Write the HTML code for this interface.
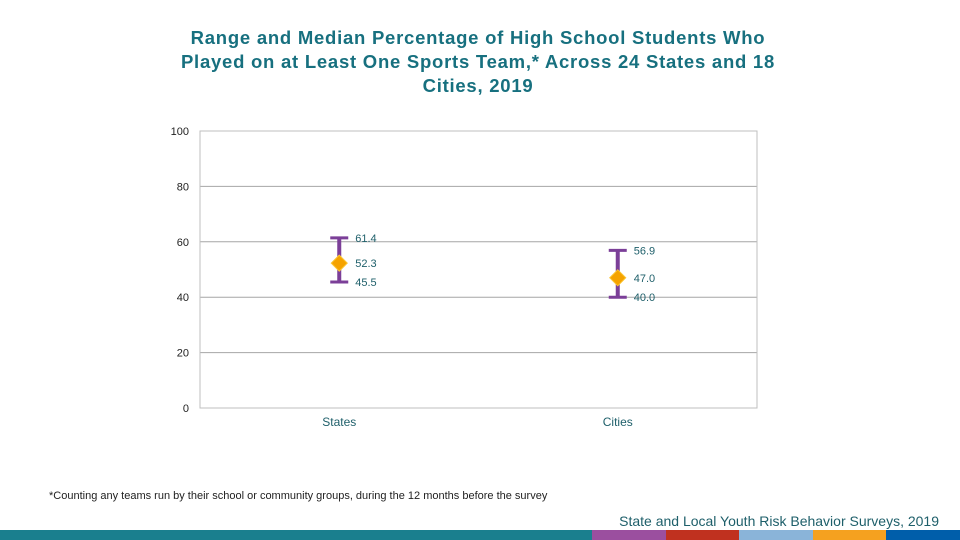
<!DOCTYPE html>
<html><head><meta charset="utf-8"><style>
body{margin:0;width:960px;height:540px;background:#fff;overflow:hidden;position:relative;font-family:"Liberation Sans",sans-serif}
#title{position:absolute;left:0;width:956px;top:26px;text-align:center;font-size:18.5px;line-height:24px;color:#17707f;font-weight:bold;letter-spacing:0.75px}
#foot{position:absolute;left:49px;top:490px;font-size:11px;color:#222}
#src{position:absolute;right:21px;top:513px;font-size:14px;color:#1e5f6a}
.stripe{position:absolute;top:530px;height:10px}
</style></head><body>
<div id="title">Range and Median Percentage of High School Students Who<br>Played on at Least One Sports Team,* Across 24 States and 18<br>Cities, 2019</div>
<svg id="chart" width="960" height="540" style="position:absolute;left:0;top:0"></svg>
<div id="foot">*Counting any teams run by their school or community groups, during the 12 months before the survey</div>
<div id="src">State and Local Youth Risk Behavior Surveys, 2019</div>
<div class="stripe" style="left:0;width:592px;background:#1a7f8e"></div>
<div class="stripe" style="left:592px;width:74px;background:#9b4f9f"></div>
<div class="stripe" style="left:666px;width:73px;background:#c0311f"></div>
<div class="stripe" style="left:739px;width:74px;background:#8ab4d9"></div>
<div class="stripe" style="left:813px;width:73px;background:#f5a11f"></div>
<div class="stripe" style="left:886px;width:74px;background:#005eaa"></div>
<script>
const categories=["States","Cities"];
const highs=[61.4,56.9];
const medians=[52.3,47.0];
const lows=[45.5,40.0];
const yTicks=[0,20,40,60,80,100];
const NS="http://www.w3.org/2000/svg";
const svg=document.getElementById('chart');
const L=200,R=757,T=131,B=408;
const y=v=>B-(v/100)*(B-T);
const x=i=>L+(R-L)*(i+0.5)/categories.length;
function mk(tag,attrs,text){const e=document.createElementNS(NS,tag);for(const k in attrs)e.setAttribute(k,attrs[k]);if(text!==undefined)e.textContent=text;svg.appendChild(e);return e;}
yTicks.forEach(t=>{
 if(t>0){const g=mk('line',{x1:L,x2:R,y1:y(t),y2:y(t),stroke:'#a6a6a6','stroke-width':1});
 
 }
 const lb=mk('text',{x:189,y:y(t)+4,'text-anchor':'end','font-size':11,fill:'#222','font-family':'Liberation Sans'},t);
 
 
});
const fr=mk('rect',{x:L,y:T,width:R-L,height:B-T,fill:'none',stroke:'#bfbfbf'});


categories.forEach((c,i)=>{
 const cx=x(i);
 const v=mk('line',{x1:cx,x2:cx,y1:y(highs[i]),y2:y(lows[i]),stroke:'#7b3f98','stroke-width':4});
 
 
 [highs[i],lows[i]].forEach((val,j)=>{
  const cap=mk('line',{x1:cx-9,x2:cx+9,y1:y(val),y2:y(val),stroke:'#7b3f98','stroke-width':3});
  
  
 });
 const my=y(medians[i]);
 const d=mk('polygon',{points:`${cx},${my-8} ${cx+8},${my} ${cx},${my+8} ${cx-8},${my}`,fill:'#f5a300',stroke:'#fbc531','stroke-width':1});
 
 
 [[highs[i],'high'],[medians[i],'median'],[lows[i],'low']].forEach(([val,n])=>{
  const t=mk('text',{x:cx+16,y:y(val)+4,'font-size':11,fill:'#1e5f6a','font-family':'Liberation Sans'},val.toFixed(1));
  
  
 });
 const cl=mk('text',{x:cx,y:B+18,'text-anchor':'middle','font-size':12,fill:'#1e5f6a','font-family':'Liberation Sans'},c);
 
 
});
</script>
</body></html>
